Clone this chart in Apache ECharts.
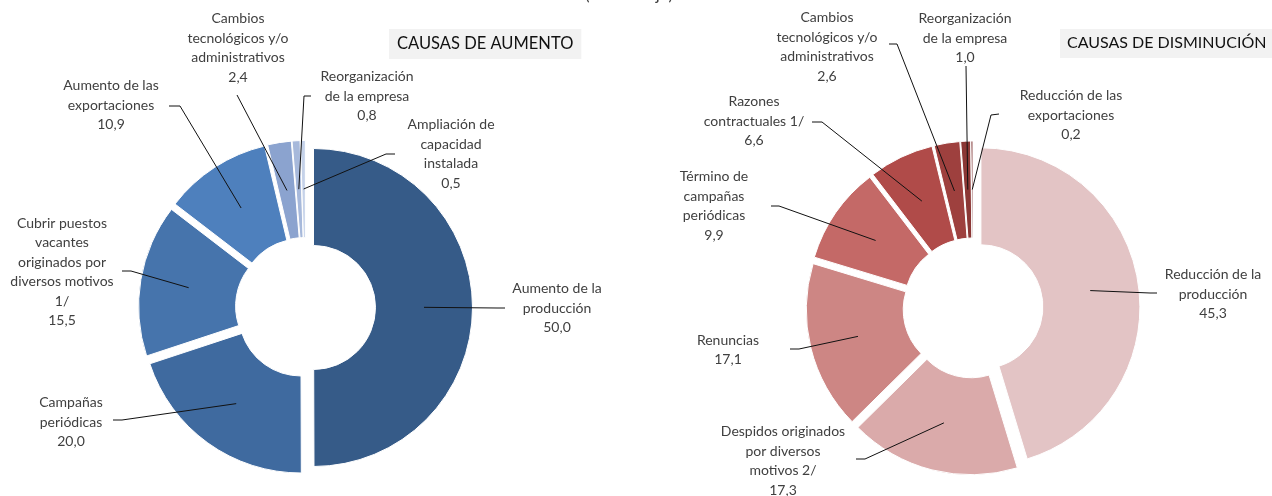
<!DOCTYPE html>
<html>
<head>
<meta charset="utf-8">
<script src="https://cdn.jsdelivr.net/npm/echarts@6/dist/echarts.min.js"></script>
<style>
  html, body { margin: 0; padding: 0; background: #fff; }
  #chart { width: 1272px; height: 496px; }
</style>
</head>
<body>
<div id="chart"></div>
<script>
// Causes of increase in employment (percent)
const aumentoCausas = [
  'Aumento de la\nproducción',
  'Campañas\nperiódicas',
  'Cubrir puestos\nvacantes\noriginados por\ndiversos motivos\n1/',
  'Aumento de las\nexportaciones',
  'Cambios\ntecnológicos y/o\nadministrativos',
  'Reorganización\nde la empresa',
  'Ampliación de\ncapacidad\ninstalada'
];
const aumentoValores = [50.0, 20.0, 15.5, 10.9, 2.4, 0.8, 0.5];

// Causes of decrease in employment (percent)
const disminucionCausas = [
  'Reducción de la\nproducción',
  'Despidos originados\npor diversos\nmotivos 2/',
  'Renuncias',
  'Término de\ncampañas\nperiódicas',
  'Razones\ncontractuales 1/',
  'Cambios\ntecnológicos y/o\nadministrativos',
  'Reorganización\nde la empresa',
  'Reducción de las\nexportaciones'
];
const disminucionValores = [45.3, 17.3, 17.1, 9.9, 6.6, 2.6, 1.0, 0.2];

const titulos = ['CAUSAS DE AUMENTO', 'CAUSAS DE DISMINUCIÓN'];
const unidad = '(Porcentaje)';

// ---- styling and layout ----
const aumentoColores = ['#365B88', '#3F6A9F', '#4674AC', '#4E80BD', '#8BA3CF', '#A7B9DB', '#C5D2E9'];
const disminucionColores = ['#E3C4C5', '#DAAAAA', '#CD8684', '#C46967', '#B04B49', '#9E403E', '#8B3735', '#7B2F2E'];

const R_IN = 62, R_OUT = 159, OFFSET = 8;
const MID_R = (R_IN + R_OUT) / 2;
const centroAumento = [305.5, 307.5];
const centroDisminucion = [973, 308];

// label centre and leader-line [elbow, end] points
const aumentoEtiquetas = [[557, 308], [71, 422], [62, 272], [111, 105], [238, 48], [367, 96], [451, 154]];
const aumentoGuias = [
  [[497, 308], [505, 308]],
  [[122, 420], [113, 420]],
  [[131, 271], [122, 271]],
  [[180, 106], [169, 106]],
  [[237, 95], [237, 95]],
  [[304, 96], [311, 96]],
  [[386, 154], [395, 154]]
];
const disminucionEtiquetas = [[1213, 294], [783, 461], [728, 350], [714, 206], [754, 121], [827, 47], [965, 38], [1071, 115]];
const disminucionGuias = [
  [[1150, 293], [1157, 293]],
  [[865, 459], [856, 459]],
  [[799, 349], [790, 349]],
  [[779, 206], [771, 206]],
  [[822, 122], [812, 122]],
  [[897, 44], [889, 44]],
  [[966, 66], [966, 66]],
  [[991, 115], [999, 114]]
];

const FONT = 'Lato';

function fmt(v) { return v.toFixed(1).replace('.', ','); }

// direction (unit vector, screen coords) of each slice's bisector, clockwise from 12 o'clock
function bisectors(values) {
  const total = values.reduce((a, b) => a + b, 0);
  let acc = 0;
  return values.map(v => {
    const mid = (acc + v / 2) / total * 2 * Math.PI;
    acc += v;
    return [Math.sin(mid), -Math.cos(mid)];
  });
}

// One pie series per slice: the whole ring is laid out, only slice k is painted,
// and the series centre is pushed out along that slice's bisector (exploded ring).
function explodedDonut(names, values, colors, center, pos) {
  const dirs = bisectors(values);
  return values.map((_, k) => {
    const c = [center[0] + dirs[k][0] * OFFSET, center[1] + dirs[k][1] * OFFSET];
    return {
      type: 'pie',
      center: c,
      radius: [R_IN, R_OUT],
      startAngle: 90,
      clockwise: true,
      avoidLabelOverlap: false,
      emphasis: { disabled: true },
      silent: true,
      itemStyle: { borderColor: '#fff', borderWidth: 1 },
      label: {
        show: true, position: 'outside',
        formatter: p => p.name + '\n' + fmt(p.value),
        fontFamily: FONT, fontSize: 14, lineHeight: 19.5, color: '#404040', align: 'center'
      },
      labelLine: { show: false },
      labelLayout: () => ({ x: pos[k][0], y: pos[k][1], align: 'center', verticalAlign: 'middle' }),
      data: values.map((v, i) => i === k
        ? { name: names[i], value: v, itemStyle: { color: colors[i] } }
        : { name: names[i], value: v, itemStyle: { color: 'rgba(0,0,0,0)', borderWidth: 0 },
            label: { show: false } })
    };
  });
}

// Leader lines: from the middle of each (exploded) slice to its label.
function leaderLines(values, center, guides) {
  const dirs = bisectors(values);
  return {
    type: 'custom',
    coordinateSystem: 'none',
    silent: true,
    z: 3,
    data: values,
    renderItem: (params) => {
      const k = params.dataIndex;
      const d = dirs[k];
      const start = [center[0] + d[0] * (OFFSET + MID_R), center[1] + d[1] * (OFFSET + MID_R)];
      return {
        type: 'polyline',
        shape: { points: [start, guides[k][0], guides[k][1]] },
        style: { stroke: '#111', lineWidth: 1, fill: null }
      };
    }
  };
}

const chart = echarts.init(document.getElementById('chart'), null, { renderer: 'canvas' });
chart.setOption({
  animation: false,
  backgroundColor: '#fff',
  title: [
    {
      text: titulos[0], left: 389, top: 29,
      backgroundColor: '#F2F2F2', padding: [6, 8, 7, 8],
      textStyle: { fontFamily: FONT, fontSize: 16.5, fontWeight: 'normal', color: '#111' }
    },
    {
      text: titulos[1], left: 1060, top: 29,
      backgroundColor: '#F2F2F2', padding: [6, 8, 7, 7],
      textStyle: { fontFamily: FONT, fontSize: 16, fontWeight: 'normal', color: '#111' }
    }
  ],
  graphic: [{
    type: 'text', x: 629, y: 3,
    style: { text: unidad, fontFamily: FONT, fontSize: 17, fill: '#404040', align: 'center', verticalAlign: 'bottom' }
  }],
  series: [
    ...explodedDonut(aumentoCausas, aumentoValores, aumentoColores, centroAumento, aumentoEtiquetas),
    ...explodedDonut(disminucionCausas, disminucionValores, disminucionColores, centroDisminucion, disminucionEtiquetas),
    leaderLines(aumentoValores, centroAumento, aumentoGuias),
    leaderLines(disminucionValores, centroDisminucion, disminucionGuias)
  ]
});
</script>
</body>
</html>
